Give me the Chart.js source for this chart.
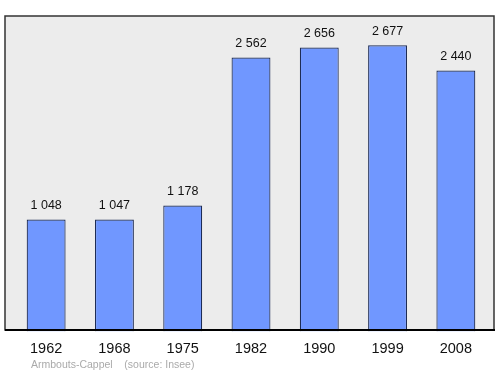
<!DOCTYPE html>
<html lang="fr">
<head>
<meta charset="UTF-8"/>
<title>Armbouts-Cappel</title>
<script src="https://cdn.jsdelivr.net/npm/chart.js"></script>
<style>
  html, body { margin:0; padding:0; background:#fff; }
  #wrap { width:500px; height:374px; }
</style>
</head>
<body>
<div id="wrap"><canvas id="popChart" width="500" height="374"></canvas></div>
<script>
// données
const years = ["1962","1968","1975","1982","1990","1999","2008"];
const population = [1048, 1047, 1178, 2562, 2656, 2677, 2440];
const yMax = 2950;
const footerText = "Armbouts-Cappel    (source: Insee)";

function fmt(n){
  return String(n).replace(/\B(?=(\d{3})+(?!\d))/g, " ");
}

// cadre gris + étiquettes
const framePlugin = {
  id: 'frame',
  beforeDatasetsDraw(chart){
    const c = chart.ctx;
    c.save();
    c.fillStyle = '#ececec';
    c.fillRect(5, 16, 489, 314);
    c.strokeStyle = '#333';
    c.lineWidth = 1.5;
    c.strokeRect(5, 16, 489, 314);
    c.restore();
  },
  afterDatasetsDraw(chart){
    const c = chart.ctx;
    const meta = chart.getDatasetMeta(0);
    c.save();
    c.strokeStyle = '#000';
    c.lineWidth = 2;
    c.beginPath();
    c.moveTo(5, 330); c.lineTo(495, 330);
    c.stroke();
    c.fillStyle = '#111';
    c.font = '12.5px "Liberation Sans", Arial, sans-serif';
    c.textAlign = 'center';
    c.textBaseline = 'middle';
    meta.data.forEach((bar, i) => {
      c.fillText(fmt(population[i]), bar.x, bar.y - 14);
    });
    c.fillStyle = '#aaa';
    c.font = '10.5px "Liberation Sans", Arial, sans-serif';
    c.textAlign = 'left';
    c.fillText(footerText, 31, 365);
    c.restore();
  }
};

new Chart(document.getElementById('popChart').getContext('2d'), {
  type: 'bar',
  data: {
    labels: years,
    datasets: [{
      data: population,
      backgroundColor: '#7097ff',
      borderColor: '#1e2c55',
      borderWidth: 1.2,
      barPercentage: 0.57,
      categoryPercentage: 1
    }]
  },
  options: {
    responsive: false,
    animation: false,
    layout: { padding: { left: 12, right: 10, top: 16, bottom: 15 } },
    plugins: { legend: { display: false }, tooltip: { enabled: false } },
    scales: {
      x: {
        grid: { display: false },
        border: { display: false },
        ticks: {
          color: '#111',
          padding: 1,
          font: { family: '"Liberation Sans", Arial, sans-serif', size: 14.5 }
        }
      },
      y: { display: false, min: 0, max: yMax }
    }
  },
  plugins: [framePlugin]
});
</script>
</body>
</html>
